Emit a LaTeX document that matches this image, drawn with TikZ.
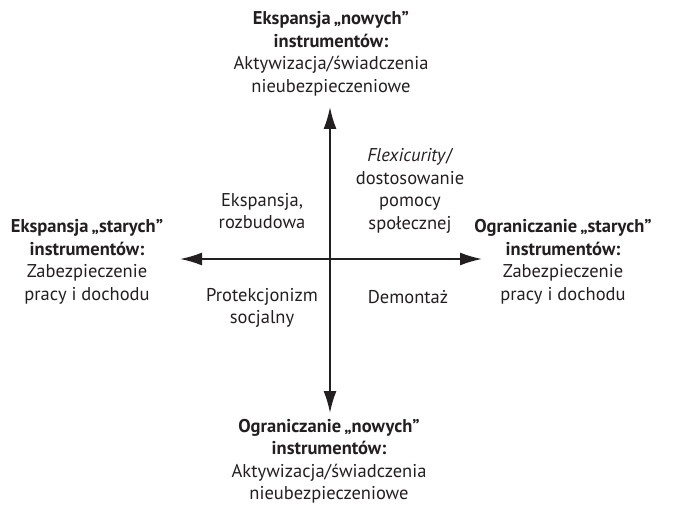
\documentclass[tikz,border=0pt]{standalone}
\usepackage{fontspec}
\setmainfont{PT Sans}
\usetikzlibrary{arrows.meta}
\definecolor{ink}{HTML}{231F20}
\tikzset{
  lbl/.style={align=center, text=ink, font=\fontsize{18.5}{22.5}\selectfont, inner sep=0pt},
  axis/.style={draw=ink, line width=1.8pt, -{Latex[length=22pt,width=13pt]}}
}
\begin{document}
\begin{tikzpicture}[x=1pt,y=-1pt]
\useasboundingbox (0,0) rectangle (674,505);
\coordinate (c) at (330,259);
\coordinate (up) at (330,107);
\coordinate (dn) at (330,413);
\coordinate (lf) at (180,259);
\coordinate (rt) at (482,259);
\draw[axis] (c) -- (up);
\draw[axis] (c) -- (dn);
\draw[axis] (c) -- (lf);
\draw[axis] (c) -- (rt);
\node[lbl] (top) at (331,54) {\textbf{Ekspansja\,„nowych”}\\\textbf{instrumentów:}\\Aktywizacja/świadczenia\\nieubezpieczeniowe};
\node[lbl] (bot) at (329,461) {\textbf{Ograniczanie\,„nowych”}\\\textbf{instrumentów:}\\Aktywizacja/świadczenia\\nieubezpieczeniowe};
\node[lbl] (left) at (87,262) {\textbf{Ekspansja\,„starych”}\\\textbf{instrumentów:}\\Zabezpieczenie\\pracy i dochodu};
\node[lbl] (right) at (563,262) {\textbf{Ograniczanie\,„starych”}\\\textbf{instrumentów:}\\Zabezpieczenie\\pracy i dochodu};
\node[lbl] (q1) at (410,191) {\textit{Flexicurity}/\\dostosowanie\\pomocy\\społecznej};
\node[lbl] (q2) at (262,211) {Ekspansja,\\rozbudowa};
\node[lbl] (q3) at (262,308) {Protekcjonizm\\socjalny};
\node[lbl] (q4) at (408,297) {Demontaż};
\end{tikzpicture}
\end{document}
